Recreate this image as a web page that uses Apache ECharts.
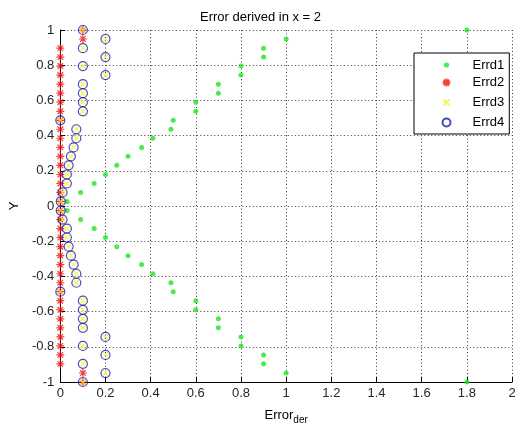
<!DOCTYPE html>
<html>
<head>
<meta charset="utf-8">
<script src="https://cdn.jsdelivr.net/npm/echarts@6/dist/echarts.min.js"></script>
<style>
  html, body { margin: 0; padding: 0; background: #ffffff; }
  #chart { width: 521px; height: 430px; }
</style>
</head>
<body>
<div id="chart"></div>
<script>
// Sample points in y (top to bottom)
const yVals = [
  1.000, 0.949, 0.897, 0.846, 0.795, 0.744, 0.692, 0.641, 0.590, 0.538,
  0.487, 0.436, 0.385, 0.333, 0.282, 0.231, 0.179, 0.128, 0.077, 0.026,
  -0.026, -0.077, -0.128, -0.179, -0.231, -0.282, -0.333, -0.385, -0.436, -0.487,
  -0.538, -0.590, -0.641, -0.692, -0.744, -0.795, -0.846, -0.897, -0.949, -1.000
];

// Derivative errors for each method at those y values
const errd1 = [
  1.80, 1.00, 0.90, 0.90, 0.80, 0.80, 0.70, 0.70, 0.60, 0.60,
  0.50, 0.49, 0.41, 0.36, 0.30, 0.25, 0.20, 0.15, 0.09, 0.03,
  0.03, 0.09, 0.15, 0.20, 0.25, 0.30, 0.36, 0.41, 0.49, 0.50,
  0.60, 0.60, 0.70, 0.70, 0.80, 0.80, 0.90, 0.90, 1.00, 1.80
];
const errd2 = [
  0.10, 0.10, 0.00, 0.00, 0.00, 0.00, 0.00, 0.00, 0.00, 0.00,
  0.00, 0.00, 0.00, 0.00, 0.00, 0.00, 0.00, 0.00, 0.00, 0.00,
  0.00, 0.00, 0.00, 0.00, 0.00, 0.00, 0.00, 0.00, 0.00, 0.00,
  0.00, 0.00, 0.00, 0.00, 0.00, 0.00, 0.00, 0.00, 0.10, 0.10
];
const errd3 = [
  0.100, 0.200, 0.100, 0.200, 0.100, 0.200, 0.100, 0.100, 0.100, 0.100,
  0.000, 0.071, 0.071, 0.059, 0.047, 0.037, 0.029, 0.029, 0.010, 0.002,
  0.002, 0.010, 0.029, 0.029, 0.037, 0.047, 0.059, 0.071, 0.071, 0.000,
  0.100, 0.100, 0.100, 0.100, 0.200, 0.100, 0.200, 0.100, 0.200, 0.100
];
const errd4 = [
  0.100, 0.200, 0.100, 0.200, 0.100, 0.200, 0.100, 0.100, 0.100, 0.100,
  0.000, 0.071, 0.071, 0.059, 0.047, 0.037, 0.029, 0.029, 0.010, 0.002,
  0.002, 0.010, 0.029, 0.029, 0.037, 0.047, 0.059, 0.071, 0.071, 0.000,
  0.100, 0.100, 0.100, 0.100, 0.200, 0.100, 0.200, 0.100, 0.200, 0.100
];

const seriesNames = ['Errd1', 'Errd2', 'Errd3', 'Errd4'];
const xTicks = { min: 0, max: 2, step: 0.2 };
const yTicks = { min: -1, max: 1, step: 0.2 };

const FONT = '"Liberation Sans", Arial, sans-serif';
const pairs = (xs) => xs.map((x, i) => [x, yVals[i]]);

// Stroke-only marker shapes
const ASTERISK = 'path://M0,-1L0,1M-1,0L1,0M-0.7,-0.7L0.7,0.7M-0.7,0.7L0.7,-0.7';
const CROSS = 'path://M-1,-1L1,1M-1,1L1,-1';

// Legend glyphs: the leading move-to points pad each glyph's box so the
// visible mark keeps its own small size inside the 14px legend cell.
const PAD = 'M-7,-7M7,7';
const LEG_DOT = 'path://' + PAD + 'M0,-2.6A2.6,2.6,0,1,1,0,2.6A2.6,2.6,0,1,1,0,-2.6Z';
const LEG_AST = 'path://' + PAD + 'M0,-4L0,4M-4,0L4,0M-2.8,-2.8L2.8,2.8M-2.8,2.8L2.8,-2.8';
const LEG_CROSS = 'path://' + PAD + 'M-3,-3L3,3M-3,3L3,-3';
const LEG_RING = 'path://' + PAD + 'M0,-4A4,4,0,1,1,0,4A4,4,0,1,1,0,-4Z';

const gridLine = { show: true, lineStyle: { color: '#3a3a3a', width: 1, type: [1, 2.5] } };

const chart = echarts.init(document.getElementById('chart'), null, { renderer: 'canvas' });
chart.setOption({
  backgroundColor: '#ffffff',
  animation: false,
  title: {
    text: 'Error derived in x = 2',
    left: 'center',
    top: 6,
    textStyle: { fontFamily: FONT, fontSize: 13, fontWeight: 'normal', color: '#000' }
  },
  grid: { left: 60, top: 30, right: 9, bottom: 45, containLabel: false },
  legend: {
    orient: 'vertical',
    left: 414,
    top: 53,
    backgroundColor: '#ffffff',
    borderColor: '#000',
    borderWidth: 1,
    padding: [5, 5, 2, 23],
    itemGap: 1,
    itemWidth: 42,
    itemHeight: 14,
    textStyle: { fontFamily: FONT, fontSize: 13, lineHeight: 14, color: '#000' },
    data: [
      { name: seriesNames[0], icon: LEG_DOT },
      { name: seriesNames[1], icon: LEG_AST },
      { name: seriesNames[2], icon: LEG_CROSS },
      { name: seriesNames[3], icon: LEG_RING }
    ]
  },
  xAxis: {
    type: 'value',
    min: xTicks.min, max: xTicks.max, interval: xTicks.step,
    name: '{main|Error}{sub|der}',
    nameLocation: 'middle',
    nameGap: 24,
    nameTextStyle: {
      rich: {
        main: { fontFamily: FONT, fontSize: 13, color: '#000' },
        sub: { fontFamily: FONT, fontSize: 10, color: '#000', padding: [9, 0, 0, 0] }
      }
    },
    axisLine: { show: true, onZero: false, lineStyle: { color: '#000', width: 1 } },
    axisTick: { show: true, inside: true, length: 5, lineStyle: { color: '#000' } },
    axisLabel: { fontFamily: FONT, fontSize: 13, color: '#262626', margin: 5 },
    splitLine: gridLine
  },
  yAxis: {
    type: 'value',
    min: yTicks.min, max: yTicks.max, interval: yTicks.step,
    name: 'Y',
    nameLocation: 'middle',
    nameGap: 32,
    nameTextStyle: { fontFamily: FONT, fontSize: 13, color: '#000' },
    axisLine: { show: true, onZero: false, lineStyle: { color: '#000', width: 1 } },
    axisTick: { show: true, inside: true, length: 5, lineStyle: { color: '#000' } },
    axisLabel: { fontFamily: FONT, fontSize: 13, color: '#262626', margin: 6 },
    splitLine: gridLine
  },
  series: [
    {
      name: seriesNames[0],
      type: 'scatter',
      data: pairs(errd1),
      symbol: 'circle',
      symbolSize: 5,
      itemStyle: { color: '#1ee61e' },
      z: 2
    },
    {
      name: seriesNames[1],
      type: 'scatter',
      data: pairs(errd2),
      symbol: ASTERISK,
      symbolSize: 8,
      itemStyle: { color: 'none', borderColor: '#ee1111', borderWidth: 1.2 },
      z: 3
    },
    {
      name: seriesNames[2],
      type: 'scatter',
      data: pairs(errd3),
      symbol: CROSS,
      symbolSize: 6,
      itemStyle: { color: 'none', borderColor: '#f2f040', borderWidth: 1.3 },
      z: 4
    },
    {
      name: seriesNames[3],
      type: 'scatter',
      data: pairs(errd4),
      symbol: 'circle',
      symbolSize: 9,
      itemStyle: { color: 'none', borderColor: '#1a1ab4', borderWidth: 1.2 },
      z: 5
    }
  ]
});
</script>
</body>
</html>
